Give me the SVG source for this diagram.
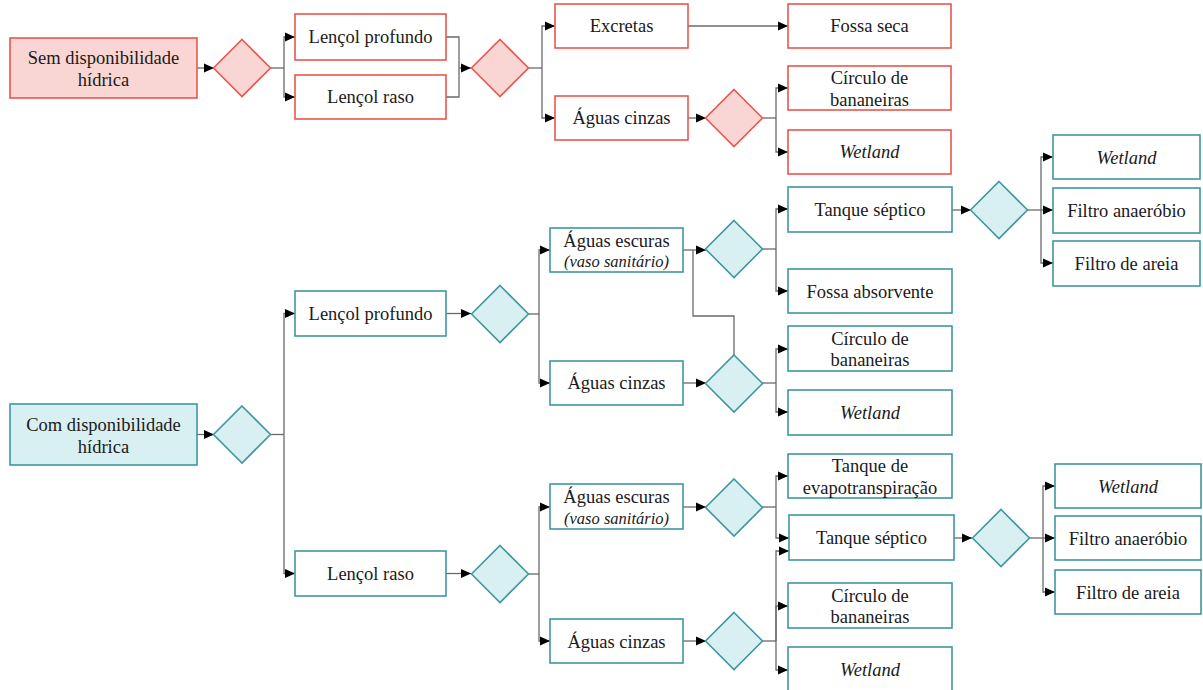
<svg xmlns="http://www.w3.org/2000/svg" width="1203" height="690" viewBox="0 0 1203 690">
<style>
text{font-family:"Liberation Serif","Times New Roman",serif;font-size:18.5px;fill:#1a1a1a;text-anchor:middle}
.it{font-style:italic}
.sm{font-size:16.5px;font-style:italic}
.rb{fill:#fff;stroke:#E9574F;stroke-width:1.6}
.rf{fill:#F9D6D4;stroke:#E9574F;stroke-width:1.6}
.tb{fill:#fff;stroke:#3F989F;stroke-width:1.6}
.tf{fill:#D9F0F2;stroke:#3F989F;stroke-width:1.6}
.c path{fill:none;stroke:#6a6a6a;stroke-width:1.3}
.c path.a{marker-end:url(#ah)}
</style>
<defs>
<marker id="ah" markerUnits="userSpaceOnUse" markerWidth="11" markerHeight="10" refX="10" refY="5" orient="auto">
<path d="M0,0.5 L10,5 L0,9.5 z" fill="#000"/>
</marker>
</defs>
<rect width="1203" height="690" fill="#fff"/>

<g id="connectors" class="c">
<path class="a" d="M197,68 H214"/>
<path d="M271,68 H284"/>
<path class="a" d="M284,68 V37 H295"/>
<path class="a" d="M284,68 V97 H295"/>
<path d="M446,37 H459 V97 H446"/>
<path class="a" d="M459,68 H471"/>
<path d="M529,68 H542"/>
<path class="a" d="M542,68 V26 H555"/>
<path class="a" d="M542,68 V118 H555"/>
<path class="a" d="M688,26 H788"/>
<path class="a" d="M688,118 H706"/>
<path d="M763,118 H776"/>
<path class="a" d="M776,118 V88 H788"/>
<path class="a" d="M776,118 V152 H788"/>

<path class="a" d="M197,434.5 H214"/>
<path d="M271,434.5 H284"/>
<path class="a" d="M284,434.5 V313.5 H295"/>
<path class="a" d="M284,434.5 V573.5 H295"/>
<path class="a" d="M446,313.5 H471"/>
<path class="a" d="M446,573.5 H471"/>
<path d="M528,314 H539"/>
<path class="a" d="M539,314 V250 H550"/>
<path class="a" d="M539,314 V383 H550"/>
<path d="M528,574 H539"/>
<path class="a" d="M539,574 V507 H550"/>
<path class="a" d="M539,574 V641 H550"/>
<path class="a" d="M683,250 H706"/>
<path d="M734,355 V316 H693 V250"/>
<path class="a" d="M683,383 H706"/>
<path d="M762,249 H776"/>
<path class="a" d="M776,249 V209 H788"/>
<path class="a" d="M776,249 V291 H788"/>
<path d="M762,383 H776"/>
<path class="a" d="M776,383 V349 H788"/>
<path class="a" d="M776,383 V412 H788"/>
<path class="a" d="M952,210 H971"/>
<path d="M1028,210 H1041"/>
<path class="a" d="M1041,210 V157 H1053"/>
<path class="a" d="M1041,210 H1053"/>
<path class="a" d="M1041,210 V263 H1053"/>
<path class="a" d="M683,507 H706"/>
<path class="a" d="M683,641 H706"/>
<path d="M762,507 H776"/>
<path class="a" d="M776,507 V476 H788"/>
<path class="a" d="M776,507 V538 H789"/>
<path d="M762,641 H776"/>
<path class="a" d="M776,641 V551 H789"/>
<path class="a" d="M776,641 V606 H788"/>
<path class="a" d="M776,641 V670 H788"/>
<path class="a" d="M954,538 H972"/>
<path d="M1029,538 H1043"/>
<path class="a" d="M1043,538 V486 H1055"/>
<path class="a" d="M1043,538 H1055"/>
<path class="a" d="M1043,538 V592 H1055"/>
</g>

<!-- Red section -->
<g id="sem"><rect class="rf" x="10" y="38" width="187" height="60"/><text x="103.5" y="63.5">Sem disponibilidade</text><text x="103.5" y="86">hídrica</text></g>
<g id="d-r1"><path class="rf" d="M242,39.5 L270.5,68 L242,96.5 L213.5,68 z"/></g>
<g id="lp-r"><rect class="rb" x="295" y="14" width="151" height="46"/><text x="370.5" y="43">Lençol profundo</text></g>
<g id="lr-r"><rect class="rb" x="295" y="75" width="151" height="44"/><text x="370.5" y="103">Lençol raso</text></g>
<g id="d-r2"><path class="rf" d="M500,39.5 L528.5,68 L500,96.5 L471.5,68 z"/></g>
<g id="exc-r"><rect class="rb" x="555" y="4" width="133" height="44"/><text x="621.5" y="32">Excretas</text></g>
<g id="cin-r"><rect class="rb" x="555" y="96" width="133" height="44"/><text x="621.5" y="124">Águas cinzas</text></g>
<g id="fs-r"><rect class="rb" x="788" y="4" width="163" height="44"/><text x="869.5" y="32">Fossa seca</text></g>
<g id="d-r3"><path class="rf" d="M734,89.5 L762.5,118 L734,146.5 L705.5,118 z"/></g>
<g id="circ-r"><rect class="rb" x="788" y="66" width="163" height="44"/><text x="869.5" y="84">Círculo de</text><text x="869.5" y="106">bananeiras</text></g>
<g id="wet-r"><rect class="rb" x="788" y="130" width="163" height="44"/><text class="it" x="869.5" y="158">Wetland</text></g>

<!-- Teal section -->
<g id="com"><rect class="tf" x="10" y="404" width="187" height="61"/><text x="103.5" y="431">Com disponibilidade</text><text x="103.5" y="453">hídrica</text></g>
<g id="d-t1"><path class="tf" d="M242,406 L270.5,434.5 L242,463 L213.5,434.5 z"/></g>
<g id="lp-t"><rect class="tb" x="295" y="291" width="151" height="45"/><text x="370.5" y="319.5">Lençol profundo</text></g>
<g id="lr-t"><rect class="tb" x="295" y="551" width="151" height="45"/><text x="370.5" y="579.5">Lençol raso</text></g>
<g id="d-t2"><path class="tf" d="M500,285.5 L528.5,314 L500,342.5 L471.5,314 z"/></g>
<g id="d-t3"><path class="tf" d="M500,545.5 L528.5,574 L500,602.5 L471.5,574 z"/></g>

<g id="esc1"><rect class="tb" x="550" y="228" width="133" height="44"/><text x="616.5" y="246.5">Águas escuras</text><text class="sm" x="616.5" y="267">(vaso sanitário)</text></g>
<g id="cin1"><rect class="tb" x="550" y="361" width="133" height="44"/><text x="616.5" y="389">Águas cinzas</text></g>
<g id="d-t4"><path class="tf" d="M734,220.5 L762.5,249 L734,277.5 L705.5,249 z"/></g>
<g id="d-t5"><path class="tf" d="M734,355 L762.5,383.5 L734,412 L705.5,383.5 z"/></g>
<g id="ts1"><rect class="tb" x="788" y="187" width="164" height="45"/><text x="870" y="216">Tanque séptico</text></g>
<g id="fa1"><rect class="tb" x="788" y="269" width="164" height="44"/><text x="870" y="297.5">Fossa absorvente</text></g>
<g id="circ1"><rect class="tb" x="788" y="326" width="164" height="45"/><text x="870" y="345">Círculo de</text><text x="870" y="366">bananeiras</text></g>
<g id="wet1"><rect class="tb" x="788" y="390" width="164" height="45"/><text class="it" x="870" y="419">Wetland</text></g>
<g id="d-t6"><path class="tf" d="M999,181.5 L1027.5,210 L999,238.5 L970.5,210 z"/></g>
<g id="wet2"><rect class="tb" x="1053" y="135" width="147" height="44"/><text class="it" x="1126.5" y="163.5">Wetland</text></g>
<g id="fan2"><rect class="tb" x="1053" y="188" width="147" height="45"/><text x="1126.5" y="217">Filtro anaeróbio</text></g>
<g id="far2"><rect class="tb" x="1053" y="241" width="147" height="45"/><text x="1126.5" y="270">Filtro de areia</text></g>

<g id="esc2"><rect class="tb" x="550" y="484" width="133" height="45"/><text x="616.5" y="503">Águas escuras</text><text class="sm" x="616.5" y="524">(vaso sanitário)</text></g>
<g id="cin2"><rect class="tb" x="550" y="619" width="133" height="44"/><text x="616.5" y="647.5">Águas cinzas</text></g>
<g id="d-t7"><path class="tf" d="M734,479 L762.5,507.5 L734,536 L705.5,507.5 z"/></g>
<g id="d-t8"><path class="tf" d="M734,612.5 L762.5,641 L734,669.5 L705.5,641 z"/></g>
<g id="tev"><rect class="tb" x="788" y="454" width="164" height="44"/><text x="870" y="472">Tanque de</text><text x="870" y="493.5">evapotranspiração</text></g>
<g id="ts2"><rect class="tb" x="789" y="515" width="165" height="45"/><text x="871.5" y="544">Tanque séptico</text></g>
<g id="circ2"><rect class="tb" x="788" y="583" width="164" height="45"/><text x="870" y="602">Círculo de</text><text x="870" y="623">bananeiras</text></g>
<g id="wet3"><rect class="tb" x="788" y="647" width="164" height="45"/><text class="it" x="870" y="676">Wetland</text></g>
<g id="d-t9"><path class="tf" d="M1001,509.5 L1029.5,538 L1001,566.5 L972.5,538 z"/></g>
<g id="wet4"><rect class="tb" x="1055" y="464" width="146" height="44"/><text class="it" x="1128" y="492.5">Wetland</text></g>
<g id="fan4"><rect class="tb" x="1055" y="516" width="146" height="44"/><text x="1128" y="544.5">Filtro anaeróbio</text></g>
<g id="far4"><rect class="tb" x="1055" y="570" width="146" height="44"/><text x="1128" y="598.5">Filtro de areia</text></g>
</svg>
